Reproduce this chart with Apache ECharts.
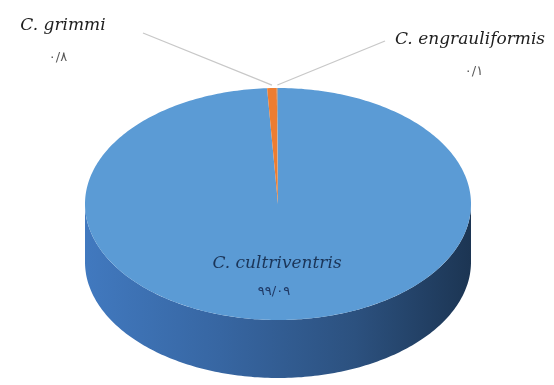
<!DOCTYPE html>
<html>
<head>
<meta charset="utf-8">
<script src="https://cdn.jsdelivr.net/npm/echarts@6/dist/echarts.min.js"></script>
<style>
  html, body { margin: 0; padding: 0; background: #ffffff; }
  #chart { width: 554px; height: 385px; }
</style>
</head>
<body>
<div id="chart"></div>
<script>
// Species and their share (%) of the catch
const species = ['C. cultriventris', 'C. grimmi', 'C. engrauliformis'];
const shares = [99.09, 0.8, 0.1];

// Slice colours (top faces)
const sliceColors = ['#5B9BD5', '#ED7D31', '#A5A5A5'];

// Ellipse geometry of the tilted disc
const G = { cx: 278, cy: 204, rx: 193, ry: 116, depth: 58 };

// Label anchors: name centre and value centre; outside labels get a leader line
const labelLayout = [
  { x: 277, y: 264, vx: 274, vy: 292, inside: true },
  { x: 63, y: 26, vx: 58, vy: 58, lineFrom: [143, 33] },
  { x: 470, y: 40, vx: 474, vy: 72, lineFrom: [385, 41] }
];

const total = shares.reduce((a, b) => a + b, 0);
const starts = [];
shares.reduce((acc, v) => { starts.push(acc); return acc + v; }, 0);

// Persian digits with "/" as the decimal separator
function faNum(v) {
  return String(v).replace('.', '/').replace(/\d/g, d => '۰۱۲۳۴۵۶۷۸۹'[d]);
}

// Darken a hex colour, keeping more of the blue channel so walls stay saturated
function shade(hex, f) {
  const n = parseInt(hex.slice(1), 16);
  const r = (n >> 16) & 255, g = (n >> 8) & 255, b = n & 255;
  const c = [r * f * 0.92, g * f, b * Math.min(1, f * 1.15)].map(Math.round);
  return 'rgb(' + c.join(',') + ')';
}

// Angle measured clockwise from 12 o'clock
function rim(theta, dy) {
  return [G.cx + G.rx * Math.sin(theta), G.cy - G.ry * Math.cos(theta) + (dy || 0)];
}

function arcPoints(a0, a1, dy) {
  const pts = [];
  const n = Math.max(2, Math.ceil((a1 - a0) / (Math.PI / 180)));
  for (let i = 0; i <= n; i++) pts.push(rim(a0 + (a1 - a0) * i / n, dy));
  return pts;
}

function sliceAngles(idx, value) {
  const a0 = starts[idx] / total * Math.PI * 2;
  const a1 = a0 + value / total * Math.PI * 2;
  return [a0, a1];
}

const sideGradient = (base) => ({
  type: 'linear', global: true,
  x: G.cx - G.rx, y: 0, x2: G.cx + G.rx, y2: 0,
  colorStops: [
    { offset: 0, color: shade(base, 0.78) },
    { offset: 0.35, color: shade(base, 0.66) },
    { offset: 0.7, color: shade(base, 0.52) },
    { offset: 1, color: shade(base, 0.34) }
  ]
});

// Outer wall, only the front half (90°..270°) is visible
function renderSide(params, api) {
  const idx = params.dataIndex;
  const [a0, a1] = sliceAngles(idx, api.value(0));
  const s = Math.max(a0, Math.PI / 2);
  const e = Math.min(a1, Math.PI * 1.5);
  if (e <= s) return null;
  const top = arcPoints(s, e, 0);
  const bottom = arcPoints(s, e, G.depth).reverse();
  return {
    type: 'polygon',
    shape: { points: top.concat(bottom) },
    style: { fill: sideGradient(sliceColors[idx]) }
  };
}

// Top face of each slice plus its labels
function renderTop(params, api) {
  const idx = params.dataIndex;
  const value = api.value(0);
  const [a0, a1] = sliceAngles(idx, value);
  const pts = [[G.cx, G.cy]].concat(arcPoints(a0, a1, 0));
  const lay = labelLayout[idx];
  const children = [{
    type: 'polygon',
    shape: { points: pts },
    style: { fill: sliceColors[idx] }
  }];
  if (lay.lineFrom) {
    const mid = rim((a0 + a1) / 2, -3);
    children.push({
      type: 'line',
      shape: { x1: lay.lineFrom[0], y1: lay.lineFrom[1], x2: mid[0], y2: mid[1] },
      style: { stroke: '#c8c8c8', lineWidth: 1.3 }
    });
  }
  children.push({
    type: 'text',
    style: {
      x: lay.x, y: lay.y, text: species[idx],
      fill: lay.inside ? '#1B3558' : '#1e1e1e', font: 'italic 17px "DejaVu Serif"',
      align: 'center', verticalAlign: 'middle'
    }
  });
  children.push({
    type: 'text',
    style: {
      x: lay.vx, y: lay.vy, text: faNum(value),
      fill: lay.inside ? '#1F3864' : '#595959', font: '13px "DejaVu Sans"',
      align: 'center', verticalAlign: 'middle'
    }
  });
  return { type: 'group', children };
}

const data = shares.map((v, i) => ({ name: species[i], value: [v] }));

const chart = echarts.init(document.getElementById('chart'), null, { renderer: 'canvas' });
chart.setOption({
  backgroundColor: '#ffffff',
  animation: false,
  series: [
    { type: 'custom', coordinateSystem: 'none', renderItem: renderSide, data, z: 1, silent: true },
    { type: 'custom', coordinateSystem: 'none', renderItem: renderTop, data, z: 2, silent: true }
  ]
});
</script>
</body>
</html>
